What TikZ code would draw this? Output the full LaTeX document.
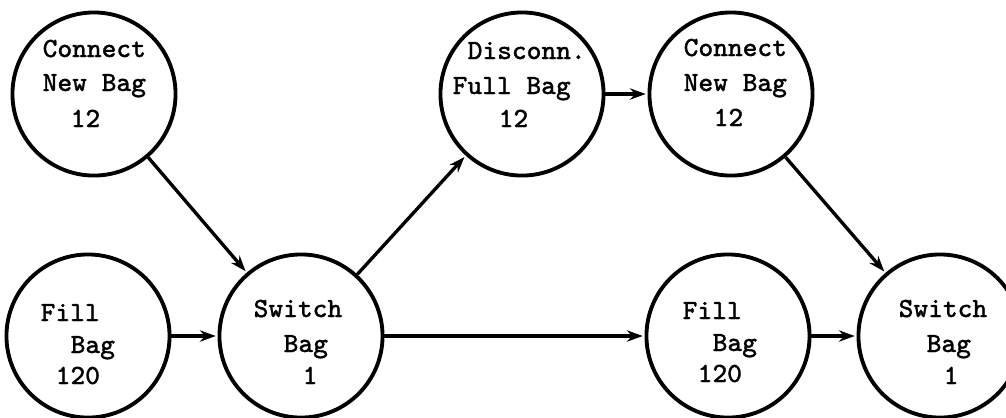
\documentclass[tikz,border=0pt]{standalone}
\usepackage{fontspec}
\newfontfamily\twfont{Latin Modern Mono}[FakeBold=1.2]
\usetikzlibrary{arrows.meta}
\begin{document}
\begin{tikzpicture}[x=0.01cm,y=-0.01cm,
  bubble/.style={circle,draw,line width=1.1pt,minimum size=1.63cm,inner sep=0pt},
  txt/.style={anchor=base west,inner sep=0pt,font=\twfont\fontsize{7.9}{10}\selectfont},
  flow/.style={line width=0.95pt,-{Stealth[length=4.5pt,width=3.2pt]},shorten >=0.5pt}]
\useasboundingbox (0,0) rectangle (1006,417);
% circles
\node[bubble] (c1) at (94,94) {};
\node[bubble] (f1) at (88,336) {};
\node[bubble] (s1) at (301,336) {};
\node[bubble] (d)  at (522,94) {};
\node[bubble] (c2) at (731,94) {};
\node[bubble] (f2) at (728,336) {};
\node[bubble] (s2) at (940,336) {};
% texts
\node[txt] (c1a) at (42,57) {Connect};
\node[txt] (c1b) at (42,91) {New Bag};
\node[txt] (c1c) at (70,127) {12};
\node[txt] (f1a) at (40,321) {Fill};
\node[txt] (f1b) at (70,353) {Bag};
\node[txt] (f1c) at (55,384) {120};
\node[txt] (s1a) at (253,317) {Switch};
\node[txt] (s1b) at (283,352) {Bag};
\node[txt] (s1c) at (302,384) {1};
\node[txt] (da) at (467,59) {Disconn.};
\node[txt] (db) at (452,94) {Full Bag};
\node[txt] (dc) at (498,127) {12};
\node[txt] (c2a) at (683,56) {Connect};
\node[txt] (c2b) at (683,91) {New Bag};
\node[txt] (c2c) at (713,126) {12};
\node[txt] (f2a) at (682,319) {Fill};
\node[txt] (f2b) at (712,351) {Bag};
\node[txt] (f2c) at (697,382) {120};
\node[txt] (s2a) at (898,317) {Switch};
\node[txt] (s2b) at (926,352) {Bag};
\node[txt] (s2c) at (943,384) {1};
% connectors
\draw[flow] (c1) -- (s1);
\draw[flow] (f1) -- (s1);
\draw[flow] (s1) -- (d);
\draw[flow] (d) -- (c2);
\draw[flow] (s1) -- (f2);
\draw[flow] (c2) -- (s2);
\draw[flow] (f2) -- (s2);
\end{tikzpicture}
\end{document}
